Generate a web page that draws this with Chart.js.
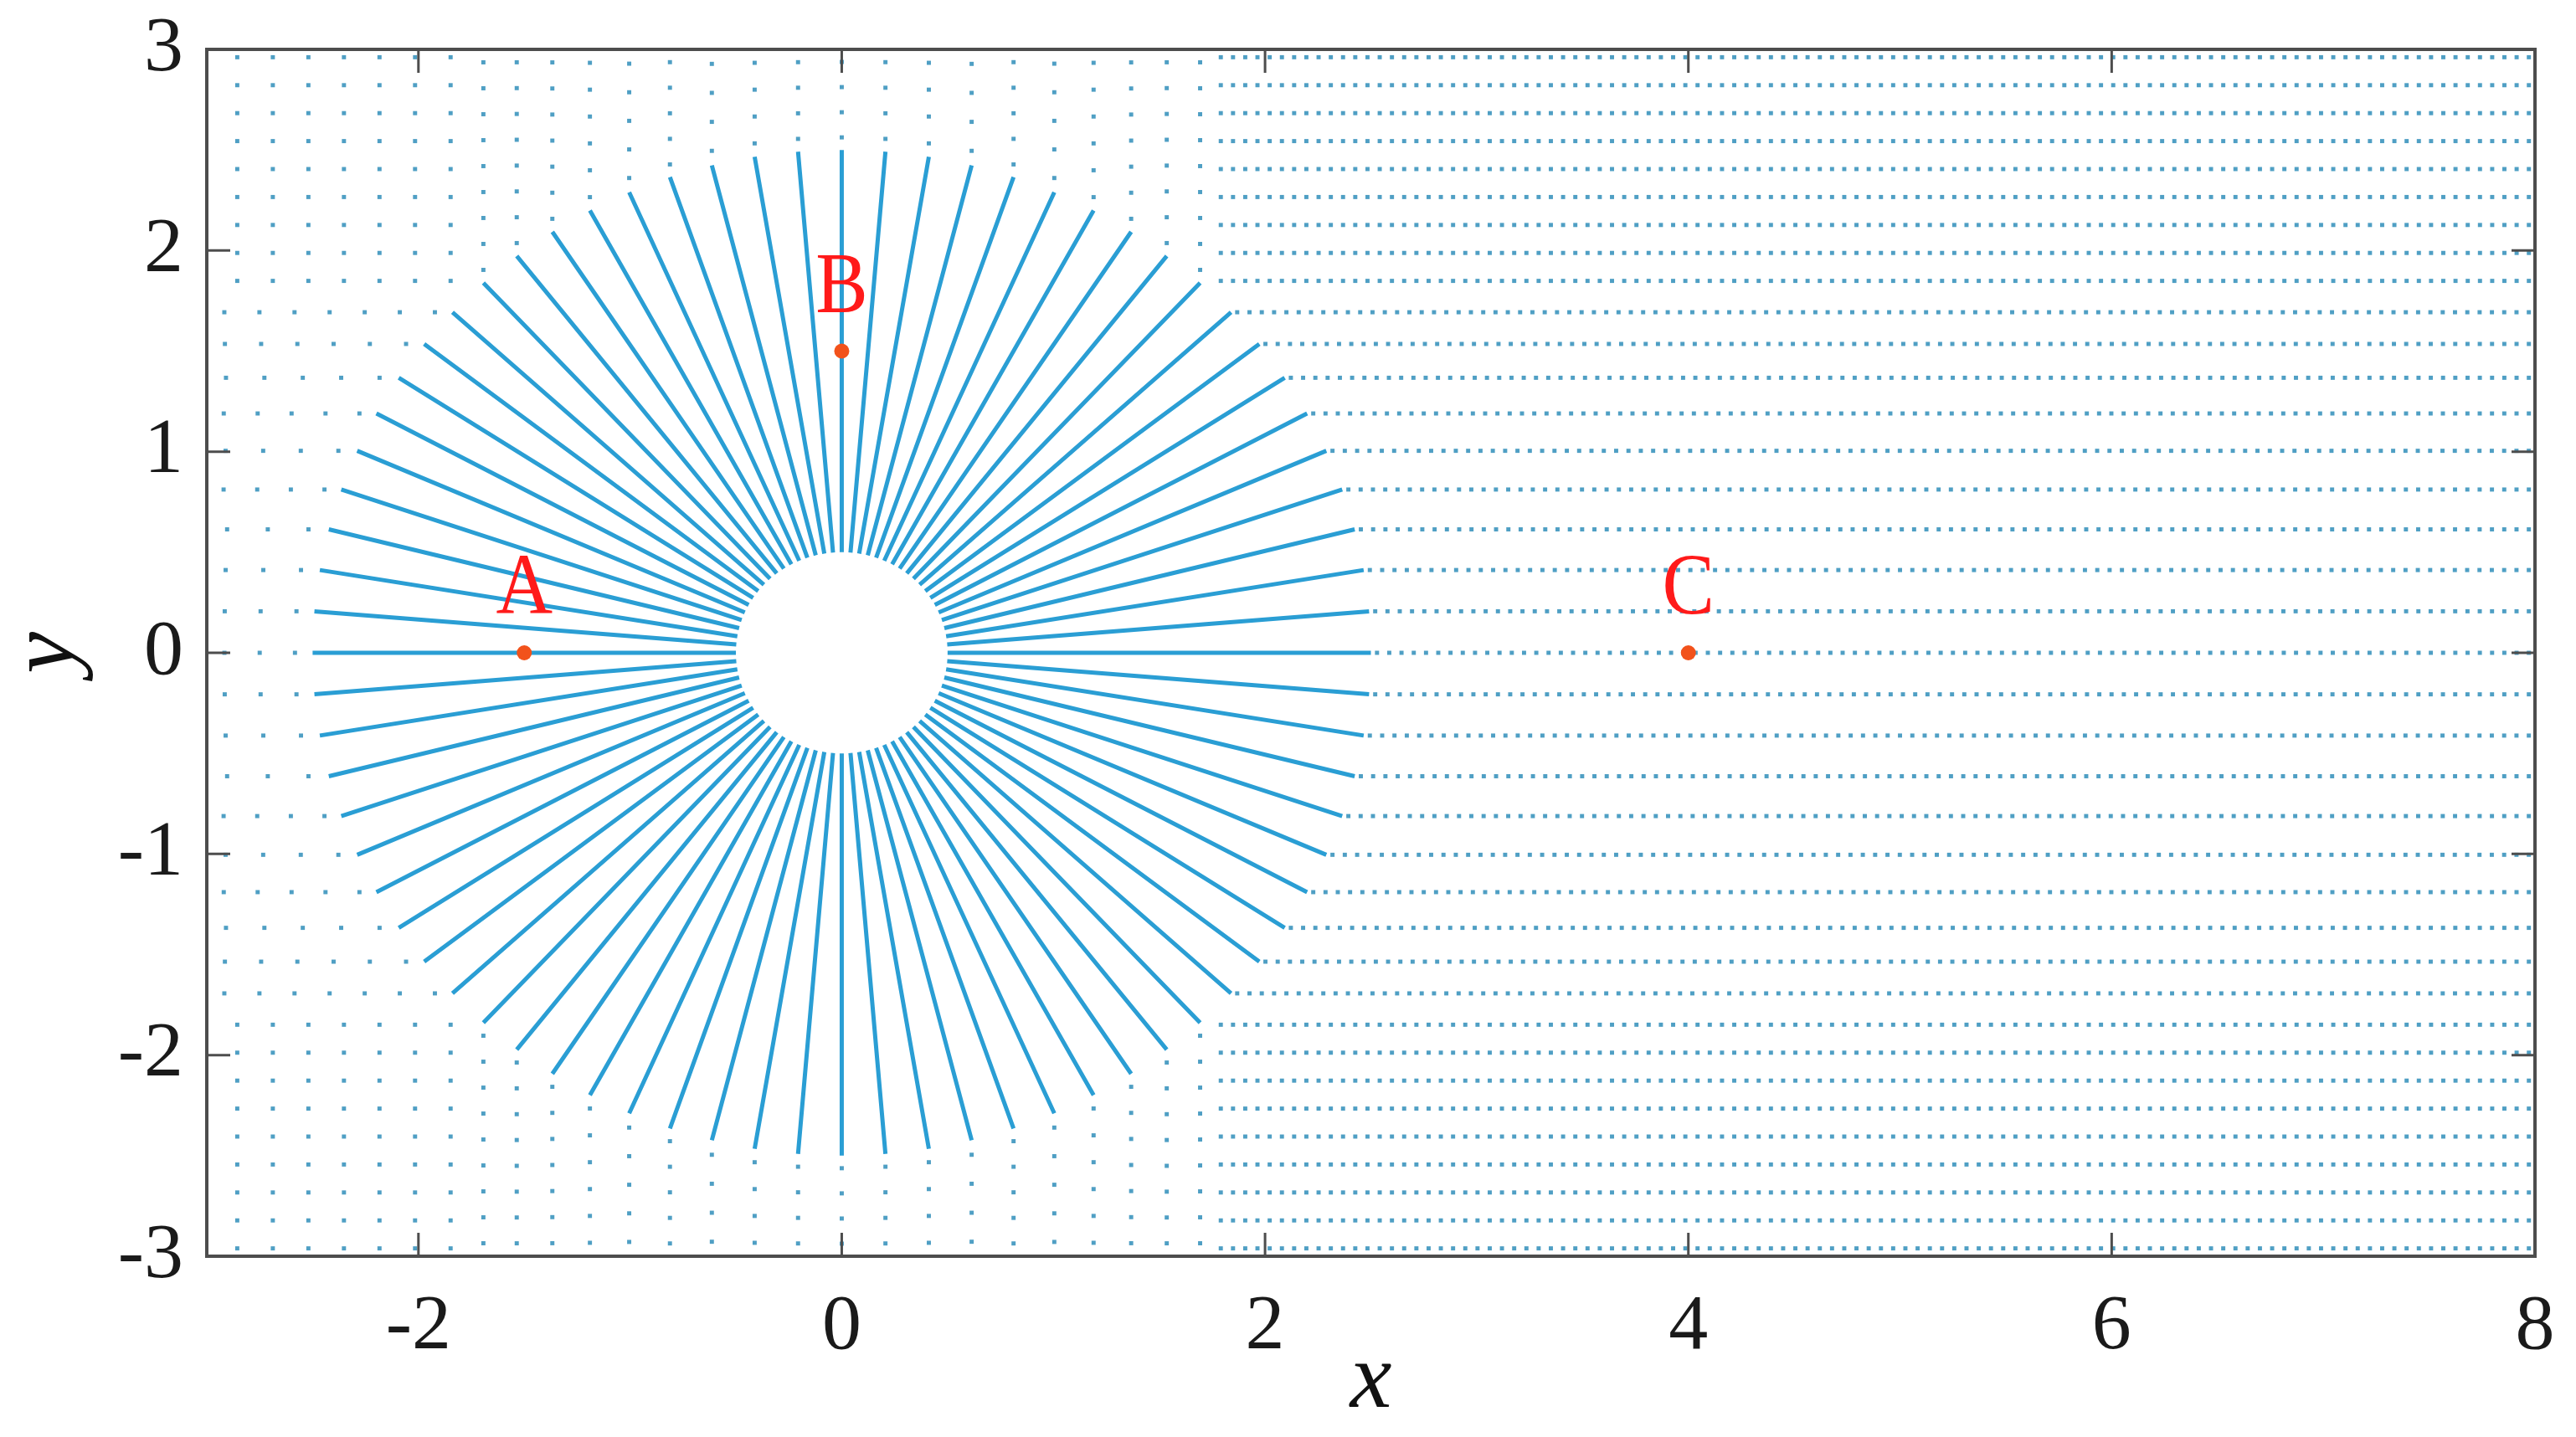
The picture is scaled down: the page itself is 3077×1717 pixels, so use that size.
<!DOCTYPE html>
<html>
<head>
<meta charset="utf-8">
<title>Particle layout around the hole</title>
<script src="https://cdn.jsdelivr.net/npm/chart.js@4.4.1/dist/chart.umd.min.js"></script>
<style>
  html, body { margin: 0; padding: 0; background: #fff; }
  #wrap { width: 3077px; height: 1717px; }
</style>
</head>
<body>
<div id="wrap"><canvas id="mesh"></canvas></div>
<script>
// axis ticks
var xTicks = [-2, 0, 2, 4, 6, 8];
var yTicks = [-3, -2, -1, 0, 1, 2, 3];

// the three marked points
var pointLabels = ['A', 'B', 'C'];
var pointX = [-1.5, 0, 4];
var pointY = [0, 1.5, 0];

// radial part round the hole
var spokeCount = 76;
var holeRadius = 0.5;
var spokeRadius = 2.5;

// rows of the top / bottom strips (|y|) and columns of the left corner blocks
var stripRowsY = [1.849, 1.988, 2.127, 2.266, 2.405, 2.544, 2.683, 2.822, 2.961];
var cornerColsX = [-2.856, -2.688, -2.52, -2.352, -2.184, -2.016, -1.848];
var rightBlockStart = 1.762;

// particle spacing: left rows, right rows, vertical columns
var stepLeft = 0.165;
var stepRight = 0.058;
var stepUp = 0.135;

var xMin = -3, xMax = 8, yMin = -3, yMax = 3;

// spread particles over [a, b], one in the middle of each cell
function cells(a, b, step) {
  var n = Math.max(1, Math.round((b - a) / step));
  var h = (b - a) / n;
  var out = [];
  for (var i = 0; i < n; i++) out.push(a + (i + 0.5) * h);
  return out;
}

var spokePoints = [];
var particlePoints = [];

for (var k = 0; k < spokeCount; k++) {
  var t = 2 * Math.PI * k / spokeCount;
  var c = Math.cos(t), s = Math.sin(t);
  var ex = spokeRadius * c, ey = spokeRadius * s;
  spokePoints.push({x: holeRadius * c, y: holeRadius * s}, {x: ex, y: ey}, {x: null, y: null});

  // spokes near the x axis go on as rows, the others as columns
  if (Math.abs(c) > Math.abs(s)) {
    var xs = c > 0 ? cells(ex, xMax, stepRight) : cells(xMin, ex, stepLeft);
    for (var i = 0; i < xs.length; i++) particlePoints.push({x: xs[i], y: ey});
  } else {
    var ys = s > 0 ? cells(ey, yMax, stepUp) : cells(yMin, ey, stepUp);
    for (var j = 0; j < ys.length; j++) particlePoints.push({x: ex, y: ys[j]});
  }
}

stripRowsY.forEach(function (y) {
  [y, -y].forEach(function (yy) {
    cells(rightBlockStart, xMax, stepRight).forEach(function (x) { particlePoints.push({x: x, y: yy}); });
    cornerColsX.forEach(function (x) { particlePoints.push({x: x, y: yy}); });
  });
});

var markerPoints = pointX.map(function (x, i) { return {x: x, y: pointY[i]}; });

var serif = '"Liberation Serif", "Times New Roman", serif';

// box, inward ticks and the A/B/C letters
var framePlugin = {
  id: 'frame',
  afterDatasetsDraw: function (chart) {
    var ctx = chart.ctx, a = chart.chartArea;
    var xs = chart.scales.x, ys = chart.scales.y;
    ctx.save();
    ctx.strokeStyle = '#4d4d4d';
    ctx.lineWidth = 3;
    ctx.beginPath();
    xTicks.forEach(function (v) {
      var px = xs.getPixelForValue(v);
      ctx.moveTo(px, a.bottom); ctx.lineTo(px, a.bottom - 28);
      ctx.moveTo(px, a.top); ctx.lineTo(px, a.top + 28);
    });
    yTicks.forEach(function (v) {
      var py = ys.getPixelForValue(v);
      ctx.moveTo(a.left, py); ctx.lineTo(a.left + 28, py);
      ctx.moveTo(a.right, py); ctx.lineTo(a.right - 28, py);
    });
    ctx.stroke();
    ctx.lineWidth = 4;
    ctx.strokeRect(a.left, a.top, a.right - a.left, a.bottom - a.top);

    ctx.fillStyle = '#ff1a1a';
    ctx.font = '104px ' + serif;
    ctx.textAlign = 'center';
    ctx.textBaseline = 'alphabetic';
    for (var i = 0; i < pointLabels.length; i++) {
      ctx.save();
      ctx.translate(xs.getPixelForValue(pointX[i]), ys.getPixelForValue(pointY[i]) - 47);
      ctx.scale(0.9, 1);
      ctx.fillText(pointLabels[i], 0, 0);
      ctx.restore();
    }
    ctx.restore();
  }
};

new Chart(document.getElementById('mesh'), {
  type: 'scatter',
  data: {
    datasets: [
      {
        label: 'points',
        data: markerPoints,
        pointRadius: 9,
        pointBackgroundColor: '#f2521b',
        pointBorderWidth: 0
      },
      {
        label: 'spokes',
        data: spokePoints,
        showLine: true,
        spanGaps: false,
        borderColor: '#2a9ed4',
        borderWidth: 5,
        pointRadius: 0
      },
      {
        label: 'particles',
        data: particlePoints,
        pointStyle: 'rect',
        pointRadius: 3.5,
        pointBackgroundColor: '#4f9fc4',
        pointBorderWidth: 0
      }
    ]
  },
  options: {
    responsive: true,
    maintainAspectRatio: false,
    animation: false,
    devicePixelRatio: 1,
    events: [],
    layout: { padding: { top: 59, right: 49, left: 0, bottom: 0 } },
    plugins: { legend: { display: false }, tooltip: { enabled: false } },
    scales: {
      x: {
        type: 'linear',
        min: xMin,
        max: xMax,
        afterBuildTicks: function (s) { s.ticks = xTicks.map(function (v) { return {value: v}; }); },
        afterFit: function (s) { s.height = 216; s.paddingLeft = 0; s.paddingRight = 0; },
        grid: { display: false, drawTicks: false },
        border: { display: false },
        ticks: { padding: 29, color: '#1a1a1a', font: { family: serif, size: 94 } },
        title: {
          display: true,
          text: 'x',
          color: '#111',
          padding: { top: 0, bottom: 9 },
          font: { family: serif, size: 112, style: 'italic', lineHeight: 1 }
        }
      },
      y: {
        type: 'linear',
        min: yMin,
        max: yMax,
        afterBuildTicks: function (s) { s.ticks = yTicks.map(function (v) { return {value: v}; }); },
        afterFit: function (s) { s.width = 247; s.paddingTop = 0; s.paddingBottom = 0; },
        grid: { display: false, drawTicks: false },
        border: { display: false },
        ticks: { padding: 28, color: '#1a1a1a', font: { family: serif, size: 94 } },
        title: {
          display: true,
          text: 'y',
          color: '#111',
          padding: { top: 16, bottom: 0 },
          font: { family: serif, size: 112, style: 'italic', lineHeight: 0.75 }
        }
      }
    }
  },
  plugins: [framePlugin]
});
</script>
</body>
</html>
